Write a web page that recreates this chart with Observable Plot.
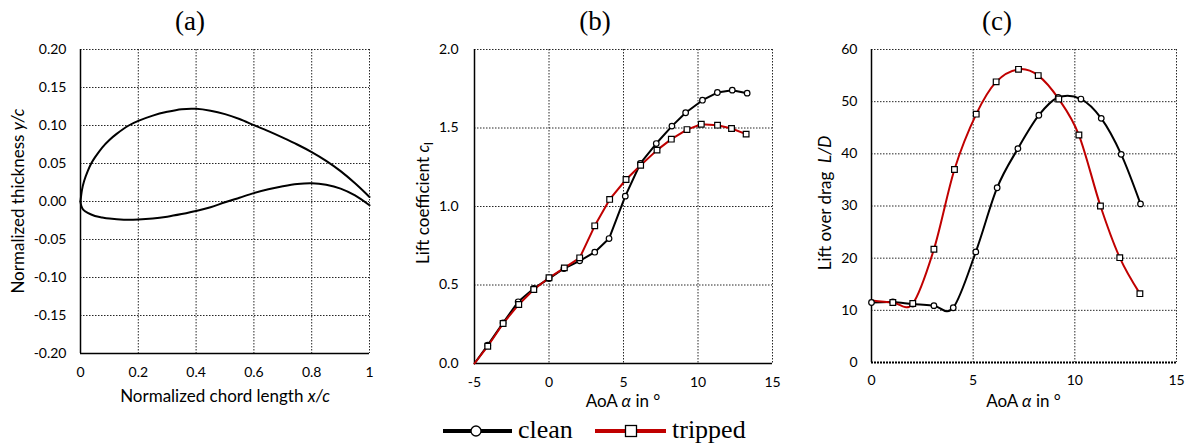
<!DOCTYPE html>
<html>
<head>
<meta charset="utf-8">
<script src="https://cdn.jsdelivr.net/npm/d3@7"></script>
<script src="https://cdn.jsdelivr.net/npm/@observablehq/plot@0.6"></script>
<style>
  html, body { margin: 0; padding: 0; background: #fff; }
  #wrap { position: relative; width: 1189px; height: 445px; background: #fff; overflow: hidden; }
  #wrap > svg, #wrap > div { position: absolute; top: 0; }
</style>
</head>
<body>
<div id="wrap"></div>
<script>
// ---------- Data ----------
// (a) airfoil contour
const upperX = [0, 0.005, 0.0125, 0.025, 0.037, 0.05, 0.075, 0.1, 0.125, 0.167, 0.2, 0.25, 0.3, 0.35, 0.4, 0.45, 0.5, 0.55, 0.6, 0.65, 0.7, 0.75, 0.8, 0.85, 0.9, 0.95, 1.0];
const upperY = [0, 0.015, 0.027, 0.040, 0.050, 0.058, 0.071, 0.081, 0.089, 0.100, 0.106, 0.113, 0.118, 0.1215, 0.122, 0.1195, 0.115, 0.1085, 0.1005, 0.0925, 0.084, 0.075, 0.065, 0.0535, 0.040, 0.024, 0.006];
const lowerX = [0, 0.003, 0.01, 0.025, 0.05, 0.075, 0.1, 0.15, 0.2, 0.25, 0.3, 0.35, 0.4, 0.45, 0.5, 0.55, 0.6, 0.65, 0.7, 0.75, 0.8, 0.85, 0.9, 0.95, 1.0];
const lowerY = [0, -0.006, -0.011, -0.015, -0.019, -0.021, -0.0225, -0.024, -0.0238, -0.0225, -0.020, -0.0165, -0.0125, -0.0075, -0.001, 0.005, 0.011, 0.016, 0.020, 0.023, 0.024, 0.022, 0.017, 0.008, -0.005];
const xTicksA = [0, 0.2, 0.4, 0.6, 0.8, 1];
const yTicksA = [-0.2, -0.15, -0.1, -0.05, 0, 0.05, 0.1, 0.15, 0.2];

// (b) lift coefficient
const clAoAClean = [-5, -4.11, -3.08, -2.07, -1.02, 0.0, 1.0, 2.06, 3.07, 4.03, 5.12, 6.13, 7.2, 8.25, 9.17, 10.3, 11.3, 12.3, 13.3];
const clClean    = [0.0, 0.117, 0.259, 0.393, 0.478, 0.541, 0.605, 0.654, 0.709, 0.796, 1.066, 1.274, 1.401, 1.512, 1.597, 1.677, 1.726, 1.741, 1.722];
const clAoATripped = [-5, -4.11, -3.08, -2.03, -1.02, 0.0, 1.03, 2.06, 3.07, 4.07, 5.17, 6.15, 7.25, 8.21, 9.26, 10.22, 11.31, 12.25, 13.23];
const clTripped    = [0.0, 0.110, 0.255, 0.376, 0.471, 0.546, 0.609, 0.673, 0.877, 1.045, 1.172, 1.263, 1.359, 1.429, 1.490, 1.524, 1.518, 1.497, 1.461];
const xTicksB = [-5, 0, 5, 10, 15];
const yTicksB = [0, 0.5, 1.0, 1.5, 2.0];

// (c) lift over drag
const ldAoAClean = [0, 1.05, 2.03, 3.07, 4.02, 5.13, 6.18, 7.2, 8.23, 9.18, 10.3, 11.3, 12.28, 13.23];
const ldClean    = [11.5, 11.6, 11.2, 10.9, 10.5, 21.2, 33.5, 41.0, 47.4, 50.8, 50.5, 46.8, 39.9, 30.4];
const ldAoATripped = [0, 1.05, 2.03, 3.07, 4.08, 5.15, 6.13, 7.23, 8.2, 9.21, 10.2, 11.26, 12.21, 13.2];
const ldTripped    = [11.9, 11.5, 11.3, 21.7, 37.0, 47.6, 53.8, 56.2, 55.0, 50.5, 43.6, 30.0, 20.1, 13.2];
const xTicksC = [0, 5, 10, 15];
const yTicksC = [0, 10, 20, 30, 40, 50, 60];

const seriesNames = ["clean", "tripped"];

// ---------- helpers ----------
const zip = (xs, ys) => xs.map((x, i) => ({x, y: ys[i]}));
const RED = "#c00000";
const gridStyle = {stroke: "#000", strokeOpacity: 0.85, strokeWidth: 1, strokeDasharray: "1.5,1.5"};
const baseStyle = {fontFamily: "Lato, sans-serif", fontSize: "14px", color: "#000", background: "transparent", overflow: "visible"};
const wrap = document.getElementById("wrap");

function place(svg, left) {
  svg.style.left = left + "px";
  svg.style.position = "absolute";
  svg.style.top = "0px";
  wrap.appendChild(svg);
  return svg;
}
function addText(svg, parts, attrs) {
  const t = d3.select(svg).append("text")
    .attr("font-family", "Lato, sans-serif").attr("font-size", 17).attr("fill", "#000");
  for (const [k, v] of Object.entries(attrs)) t.attr(k, v);
  for (const p of parts) {
    const s = t.append("tspan").text(p.t);
    if (p.i) s.attr("font-style", "italic");
    if (p.sub) s.attr("font-size", 12).attr("dy", 4);
  }
  return t;
}

// ---------- (a) ----------
const upper = zip(upperX, upperY);
const lower = zip(lowerX, lowerY);
const svgA = Plot.plot({
  width: 380, height: 410, marginLeft: 80, marginRight: 11, marginTop: 49, marginBottom: 57,
  style: baseStyle,
  x: {domain: [0, 1]},
  y: {domain: [-0.2, 0.2]},
  marks: [
    Plot.gridX(xTicksA.slice(1), gridStyle),
    Plot.gridY(yTicksA.slice(1), gridStyle),
    Plot.axisX(xTicksA, {tickSize: 0, tickPadding: 14, tickFormat: d => String(d), label: null}),
    Plot.axisY(yTicksA, {tickSize: 0, tickPadding: 14, tickFormat: d => d.toFixed(2), label: null}),
    Plot.ruleX([0], {stroke: "#000", strokeWidth: 1.5}),
    Plot.ruleY([-0.2], {stroke: "#000", strokeWidth: 1.5}),
    Plot.line(upper, {x: "x", y: "y", curve: "catmull-rom", stroke: "#000", strokeWidth: 2}),
    Plot.line(lower, {x: "x", y: "y", curve: "catmull-rom", stroke: "#000", strokeWidth: 2})
  ]
});
place(svgA, 0);
addText(svgA, [{t: "Normalized chord length "}, {t: "x/c", i: true}], {x: 225, y: 402, "text-anchor": "middle"});
addText(svgA, [{t: "Normalized thickness "}, {t: "y/c", i: true}], {transform: "translate(18,201) rotate(-90)", dy: "0.35em", "text-anchor": "middle"});

// ---------- (b) ----------
const clC = zip(clAoAClean, clClean);
const clT = zip(clAoATripped, clTripped);
const svgB = Plot.plot({
  width: 395, height: 410, marginLeft: 84, marginRight: 13, marginTop: 49, marginBottom: 47,
  style: baseStyle,
  x: {domain: [-5, 15]},
  y: {domain: [0, 2]},
  marks: [
    Plot.gridX(xTicksB.slice(1), gridStyle),
    Plot.gridY(yTicksB.slice(1), gridStyle),
    Plot.axisX(xTicksB, {tickSize: 0, tickPadding: 14, tickFormat: d => String(d), label: null}),
    Plot.axisY(yTicksB, {tickSize: 0, tickPadding: 16, tickFormat: d => d.toFixed(1), label: null}),
    Plot.ruleX([-5], {stroke: "#000", strokeWidth: 1.5}),
    Plot.ruleY([0], {stroke: "#000", strokeWidth: 1.5}),
    Plot.line(clC, {x: "x", y: "y", stroke: "#000", strokeWidth: 2}),
    Plot.line(clT, {x: "x", y: "y", stroke: RED, strokeWidth: 2}),
    Plot.dot(clC.filter(d => d.x > -5), {x: "x", y: "y", symbol: "circle", r: 2.8, fill: "#fff", stroke: "#000", strokeWidth: 1.2}),
    Plot.dot(clT.filter(d => d.x > -5), {x: "x", y: "y", symbol: "square", r: 3.2, fill: "#fff", stroke: "#000", strokeWidth: 1.2})
  ]
});
place(svgB, 390);
addText(svgB, [{t: "AoA "}, {t: "α", i: true}, {t: " in °"}], {x: 233, y: 407, "text-anchor": "middle"});
addText(svgB, [{t: "Lift coefficient "}, {t: "c", i: true}, {t: "l", sub: true}], {transform: "translate(33,203) rotate(-90)", dy: "0.35em", "text-anchor": "middle"});

// ---------- (c) ----------
const ldC = zip(ldAoAClean, ldClean);
const ldT = zip(ldAoATripped, ldTripped);
const svgC = Plot.plot({
  width: 399, height: 410, marginLeft: 81, marginRight: 13, marginTop: 49, marginBottom: 48,
  style: baseStyle,
  x: {domain: [0, 15]},
  y: {domain: [0, 60]},
  marks: [
    Plot.gridX(xTicksC.slice(1), gridStyle),
    Plot.gridY(yTicksC.slice(1), gridStyle),
    Plot.axisX(xTicksC, {tickSize: 0, tickPadding: 13, tickFormat: d => String(d), label: null}),
    Plot.axisY(yTicksC, {tickSize: 0, tickPadding: 14, tickFormat: d => String(d), label: null}),
    Plot.ruleX([0], {stroke: "#000", strokeWidth: 1.5}),
    Plot.ruleY([0], {stroke: "#000", strokeWidth: 2, strokeDasharray: "2,1"}),
    Plot.line(ldC, {x: "x", y: "y", curve: "cardinal", stroke: "#000", strokeWidth: 2}),
    Plot.line(ldT, {x: "x", y: "y", curve: "cardinal", stroke: RED, strokeWidth: 2}),
    Plot.dot(ldC, {x: "x", y: "y", symbol: "circle", r: 2.8, fill: "#fff", stroke: "#000", strokeWidth: 1.2}),
    Plot.dot(ldT.filter(d => d.x > 0), {x: "x", y: "y", symbol: "square", r: 3.2, fill: "#fff", stroke: "#000", strokeWidth: 1.2})
  ]
});
place(svgC, 790);
addText(svgC, [{t: "AoA "}, {t: "α", i: true}, {t: " in °"}], {x: 233.5, y: 407, "text-anchor": "middle"});
addText(svgC, [{t: "Lift over drag  "}, {t: "L/D", i: true}], {transform: "translate(35,203) rotate(-90)", dy: "0.35em", "text-anchor": "middle", "xml:space": "preserve", style: "white-space:pre"});

// ---------- titles & legend overlay ----------
const ov = d3.select(wrap).append("svg")
  .attr("width", 1189).attr("height", 445)
  .style("position", "absolute").style("left", "0px").style("top", "0px").style("pointer-events", "none");
const serif = "'Liberation Serif', 'Times New Roman', serif";
[["(a)", 190], ["(b)", 595], ["(c)", 997]].forEach(([t, x]) => {
  ov.append("text").attr("x", x).attr("y", 30).attr("text-anchor", "middle")
    .attr("font-family", serif).attr("font-size", 27).attr("fill", "#000").text(t);
});
// legend: clean
const lg = ov.append("g");
lg.append("line").attr("x1", 443).attr("x2", 512).attr("y1", 431).attr("y2", 431).attr("stroke", "#000").attr("stroke-width", 4);
lg.append("circle").attr("cx", 476).attr("cy", 431).attr("r", 5).attr("fill", "#fff").attr("stroke", "#000").attr("stroke-width", 1.3);
lg.append("text").attr("x", 518).attr("y", 438).attr("font-family", serif).attr("font-size", 26).attr("fill", "#000").text(seriesNames[0]);
// legend: tripped
lg.append("line").attr("x1", 595).attr("x2", 666).attr("y1", 431).attr("y2", 431).attr("stroke", RED).attr("stroke-width", 4);
lg.append("rect").attr("x", 625.5).attr("y", 425.5).attr("width", 11).attr("height", 11).attr("fill", "#fff").attr("stroke", "#000").attr("stroke-width", 1.3);
lg.append("text").attr("x", 672).attr("y", 438).attr("font-family", serif).attr("font-size", 26).attr("fill", "#000").text(seriesNames[1]);
</script>
</body>
</html>
